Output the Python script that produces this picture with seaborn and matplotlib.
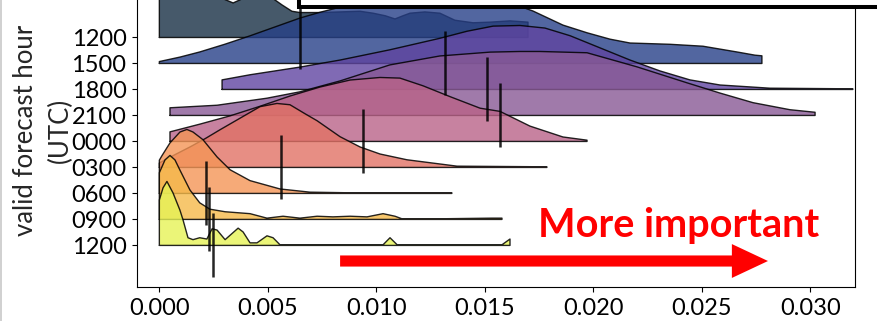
import numpy as np
import pandas as pd
import matplotlib
matplotlib.use("Agg")
import matplotlib.pyplot as plt
import seaborn as sns
from matplotlib.patches import Rectangle
from matplotlib.lines import Line2D
from matplotlib.colors import to_rgba

# ---------------- data (importance values in units of 1e-3) ----------------
hour_labels = ["1200", "1500", "1800", "2100", "0000", "0300", "0600", "0900", "1200"]
ridge_colors = ["#183045", "#274088", "#6045a1", "#885995", "#ba6388",
                "#e27265", "#f49556", "#f5ba4a", "#e6f356"]

x_h1200a = [0.0, 0.49, 1.18, 1.86, 2.55, 3.40, 4.18, 4.73, 5.19, 5.65, 6.11, 6.48, 7.40, 8.33,
            9.25, 9.85, 10.41, 10.86, 11.23, 11.55, 12.24, 12.93, 13.62, 14.46, 15.24, 16.16, 16.99]
d_h1200a = [0.74, 0.90, 1.00, 0.90, 0.66, 0.54, 0.66, 0.71, 0.62, 0.51, 0.41, 0.39, 0.39, 0.40,
            0.41, 0.38, 0.34, 0.29, 0.34, 0.38, 0.40, 0.38, 0.27, 0.23, 0.24, 0.26, 0.24]

x_h1500 = [0.0, 0.95, 1.86, 3.01, 4.16, 5.32, 6.48, 7.40, 8.33, 9.71, 11.09, 12.93, 14.78, 16.16,
           17.22, 18.60, 19.71, 20.77, 21.69, 23.53, 25.05, 26.62, 27.45, 27.77]
d_h1500 = [0.03, 0.10, 0.18, 0.30, 0.43, 0.57, 0.71, 0.80, 0.88, 0.95, 0.99, 1.00, 0.99, 0.95,
           0.82, 0.60, 0.48, 0.38, 0.32, 0.30, 0.27, 0.18, 0.13, 0.12]

x_h1800 = [2.89, 4.18, 6.48, 8.33, 10.62, 12.93, 14.18, 15.38, 16.62, 17.77, 18.93, 20.31, 21.69,
           23.07, 24.45, 25.84, 28.14, 31.96]
d_h1800 = [0.15, 0.23, 0.35, 0.46, 0.62, 0.80, 0.91, 0.99, 1.00, 0.96, 0.84, 0.65, 0.46,
           0.29, 0.15, 0.07, 0.02, 0.01]

x_h2100 = [0.49, 2.66, 4.96, 6.48, 8.33, 10.62, 12.93, 15.24, 16.62, 17.54, 19.71, 22.01, 24.32,
           25.84, 27.36, 29.06, 30.22]
d_h2100 = [0.12, 0.16, 0.27, 0.37, 0.54, 0.79, 0.93, 0.99, 1.00, 1.00, 0.98, 0.76, 0.51,
           0.35, 0.20, 0.09, 0.05]

x_h0000 = [0.49, 1.86, 3.26, 4.64, 6.02, 7.40, 8.79, 10.17, 11.09, 12.15, 13.40, 14.78, 15.70,
           17.08, 18.60, 19.71]
d_h0000 = [0.15, 0.27, 0.40, 0.55, 0.71, 0.85, 0.96, 1.00, 0.99, 0.87, 0.70, 0.52, 0.47,
           0.24, 0.07, 0.02]

x_h0300 = [0.0, 0.72, 1.41, 2.11, 2.80, 3.72, 4.64, 5.42, 6.02, 6.71, 7.27, 8.33, 9.25, 10.17,
           11.41, 13.72, 17.86]
d_h0300 = [0.07, 0.20, 0.32, 0.45, 0.59, 0.77, 0.95, 1.00, 0.98, 0.84, 0.73, 0.48, 0.32, 0.21,
           0.12, 0.02, 0.01]

x_h0600 = [0.0, 0.12, 0.49, 0.95, 1.27, 1.55, 2.01, 2.66, 3.26, 4.18, 5.56, 6.94, 8.79, 13.48]
d_h0600 = [0.52, 0.59, 0.79, 0.96, 1.00, 0.96, 0.84, 0.57, 0.37, 0.20, 0.07, 0.02, 0.01, 0.01]

x_h0900 = [0.0, 0.26, 0.49, 0.72, 0.95, 1.41, 1.86, 2.33, 3.03, 4.18, 4.96, 5.70, 6.48, 7.27,
           8.00, 8.79, 9.57, 10.31, 10.86, 11.18, 12.93, 15.33, 15.79]
d_h0900 = [0.73, 0.93, 1.00, 0.93, 0.77, 0.46, 0.26, 0.16, 0.12, 0.09, 0.02, 0.05, 0.02, 0.05,
           0.04, 0.05, 0.04, 0.09, 0.05, 0.01, 0.01, 0.02, 0.02]

x_h1200b = [0.0, 0.17, 0.35, 0.63, 0.95, 1.09, 1.32, 1.55, 1.86, 2.19, 2.43, 2.66, 3.03, 3.63,
            3.86, 4.18, 4.50, 4.96, 5.24, 5.56, 10.31, 10.63, 10.96, 15.79, 16.16]
d_h1200b = [0.71, 0.90, 1.00, 0.82, 0.55, 0.40, 0.12, 0.09, 0.12, 0.10, 0.26, 0.24, 0.09, 0.27,
            0.21, 0.04, 0.04, 0.15, 0.12, 0.01, 0.01, 0.12, 0.01, 0.01, 0.10]

mean_importance = [6.48, 13.17, 15.10, 15.70, 9.39, 5.61, 2.15, 2.29, 2.48]

xticks = [0.000, 0.005, 0.010, 0.015, 0.020, 0.025, 0.030]
xtick_labels = ["0.000", "0.005", "0.010", "0.015", "0.020", "0.025", "0.030"]

ridge_x = [x_h1200a, x_h1500, x_h1800, x_h2100, x_h0000, x_h0300, x_h0600, x_h0900, x_h1200b]
ridge_d = [d_h1200a, d_h1500, d_h1800, d_h2100, d_h0000, d_h0300, d_h0600, d_h0900, d_h1200b]

# ---------------- style ----------------
sns.set_theme(style="ticks")
plt.rcParams["font.family"] = ["Lato", "DejaVu Sans"]

W, H = 877, 321
fig = plt.figure(figsize=(W / 100, H / 100), dpi=100)
ax = fig.add_axes([137 / W, 34 / H, (855 - 137) / W, 287 / H])

RIDGE_SCALE = 64 / 26.0   # peak height in ridge spacings
MEAN_HALF = 32 / 26.0

for i, (xs, ds, col) in enumerate(zip(ridge_x, ridge_d, ridge_colors)):
    x = np.asarray(xs) * 1e-3
    top = i - np.asarray(ds) * RIDGE_SCALE
    z = 2 + i * 0.1
    ax.fill_between(x, i, top, facecolor=to_rgba(col, 0.8), edgecolor="none",
                    linewidth=0, zorder=z)
    ox = np.concatenate([[x[0]], x, [x[-1], x[0]]])
    oy = np.concatenate([[i], top, [i, i]])
    df = pd.DataFrame({"imp": ox, "pos": oy})
    sns.lineplot(data=df, x="imp", y="pos", sort=False, estimator=None, color="black",
                 linewidth=1.0, alpha=0.85, ax=ax, zorder=z + 0.05)

means = np.asarray(mean_importance) * 1e-3
pos = np.arange(len(means))
ax.vlines(means, pos - MEAN_HALF, pos + MEAN_HALF, color="black", linewidth=1.8,
          alpha=0.85, zorder=20)

ax.set_xlim(-0.00103, 0.03206)
ax.set_ylim(9.6, -37.5 / 26.0)
ax.set_yticks(range(len(hour_labels)))
ax.set_yticklabels(hour_labels)
ax.set_xticks(xticks)
ax.set_xticklabels(xtick_labels)
ax.set_xlabel("")
ax.set_ylabel("")
ax.tick_params(axis="both", labelsize=17, length=3.6, width=0.8, colors="black", pad=4)
for s in ["left", "bottom", "right"]:
    ax.spines[s].set_visible(True)
    ax.spines[s].set_color("black")
    ax.spines[s].set_linewidth(0.8)
ax.spines["top"].set_visible(False)

fig.text(43 / W, 1 - 130 / H, "valid forecast hour\n(UTC)", rotation=90, ha="center",
         va="center", multialignment="center", fontsize=18.5, linespacing=1.45)

# red annotation
ax.text(0.02395, 7.67, "More important", color="#ff0000", fontsize=28.5, fontweight="bold",
        ha="center", va="baseline", zorder=30)
ax.annotate("", xy=(0.02805, 8.6), xytext=(0.00833, 8.6),
            arrowprops=dict(arrowstyle="simple,head_length=1.3,head_width=1.22,tail_width=0.4",
                            mutation_scale=20, color="#ff0000", lw=0, shrinkA=0, shrinkB=0),
            zorder=30)

# overlay box at top (from composite figure) and left border
fig.add_artist(Rectangle((299 / W, 1 - 7 / H), 1.0, 0.5, transform=fig.transFigure,
                         facecolor="white", edgecolor="black", linewidth=2.9, zorder=50))
fig.add_artist(Line2D([1 / W, 1 / W], [0, 1], transform=fig.transFigure, color="#c8c8c8",
                      linewidth=1.2, zorder=50))

fig.savefig("out.png", dpi=100)
